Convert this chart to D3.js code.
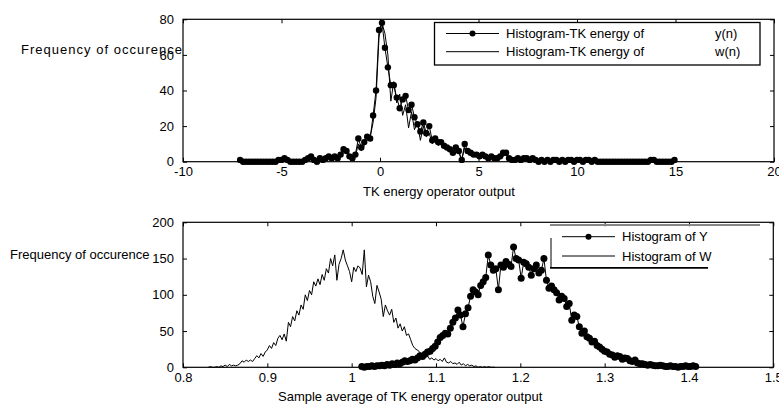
<!DOCTYPE html>
<html>
<head>
<meta charset="utf-8">
<script src="https://cdn.jsdelivr.net/npm/d3@7"></script>
<style>
body{margin:0;background:#fff}
text{font-family:"Liberation Sans",Arial,sans-serif;fill:#000}
</style>
</head>
<body>
<div id="chart"></div>
<script>
// top panel: histogram of TK energy, bins of 0.15 from -7.1
var tkStart=-7.1, tkStep=0.15;
var tkY=[1,0,0,0,0,0,0,0,0,0,0,0,0,
  1,1,2,1,
  0,0,0,0,0,1,
  2,3,1,0,2,1,2,3,2,3,2,4,
  7,6,3,2,4,13,8,11,14,13,
  26,40,74,78,
  64,53,43,43,36,30,35,37,29,32,25,21,
  17,22,16,20,12,13,11,11,9,8,7,5,8,6,
  1,10,6,5,4,4,3,4,3,2,3,2,2,3,5,5,
  2,1,1,2,1,2,2,1,2,1,0,1,0,1,0,1,1,0,1,0,1,1,0,1,1,0,1,1,0,1,0,
  0,0,0,0,0,0,0,0,0,0,0,0,0,0,0,0,
  0,1,1,0,0,0,0,0,0,1];
var tkW=[0,0,0,0,0,0,0,0,0,0,0,0,0,
  0,1,1,0,
  0,0,0,0,1,0,
  1,2,1,0,1,2,1,2,3,1,2,3,
  5,6,2,1,3,10,6,9,12,14,
  22,36,70,78,
  72,60,34,45,33,38,26,32,19,28,18,22,
  12,20,14,16,10,12,9,10,8,7,6,4,7,5,
  1,8,5,4,3,3,2,3,2,1,2,1,2,2,3,4,
  1,1,0,1,1,1,2,0,1,1,0,0,0,1,0,0,1,0,0,0,1,0,0,1,0,0,1,0,0,0,0,
  0,0,0,0,0,0,0,0,0,0,0,0,0,0,0,0,
  0,0,1,0,0,0,0,0,0,0];

// bottom panel: histogram of sample averages
var avgYStart=1.012, avgYStep=0.003;
var avgY=[1,0,1,1,2,1,2,
  2,3,2,4,3,5,4,6,5,7,9,8,9,11,10,13,16,15,18,21,22,26,29,
  35,41,44,47,46,54,62,68,79,72,56,74,82,98,107,104,100,113,118,124,
  155,141,134,136,107,141,138,146,142,139,166,150,148,123,145,143,138,127,136,141,
  130,134,150,120,109,112,107,103,93,98,95,84,88,65,72,70,56,47,50,42,
  40,35,36,30,28,25,22,21,18,17,14,16,15,11,13,12,9,8,10,6,
  5,5,4,3,4,3,2,2,3,2,1,1,2,1,1,0,1,1,2,1,1,2,1];
var avgWStart=0.83, avgWStep=0.0025;
var avgW=[0,1,0,0,1,0,2,1,3,1,4,2,3,2,
  3,5,9,7,10,8,
  10,8,12,16,13,19,15,21,
  24,30,26,34,30,40,44,38,
  46,36,62,56,70,64,78,72,
  86,80,100,92,106,100,118,112,
  122,114,128,120,136,130,150,140,
  155,120,142,150,162,148,140,132,
  118,138,132,140,137,128,162,111,
  127,118,98,88,113,104,94,70,
  86,78,72,80,62,68,54,60,
  50,56,44,46,38,30,26,24,
  22,18,20,14,16,11,13,10,
  12,9,11,8,13,7,6,8,
  5,6,4,7,3,5,2,4,
  2,3,1,2,0,1,0,1,
  0,1,0,0,0];

var topXTicks=[-10,-5,0,5,10,15,20];
var topYTicks=[0,20,40,60,80];
var botXTicks=[0.8,0.9,1,1.1,1.2,1.3,1.4,1.5];
var botYTicks=[0,50,100,150,200];

var svg=d3.select("#chart").append("svg")
          .attr("width",779)
          .attr("height",406)

function toPoints(start,step,vals){
    return vals.map(function(v,i){return {x:start+i*step,y:v}})
}

function panel(box,xdom,ydom,xt,yt){
    var x=d3.scaleLinear().domain(xdom).range([box.l,box.r])
    var y=d3.scaleLinear().domain(ydom).range([box.b,box.t])
    var g=svg.append("g")
    g.append("g")
     .attr("transform","translate(0,"+box.b+")")
     .call(d3.axisBottom(x).tickValues(xt).tickSizeInner(-4).tickSizeOuter(0).tickPadding(5).tickFormat(function(d){return d}))
    g.append("g")
     .attr("transform","translate(0,"+box.t+")")
     .call(d3.axisTop(x).tickValues(xt).tickSizeInner(-4).tickSizeOuter(0).tickFormat(""))
    g.append("g")
     .attr("transform","translate("+box.l+",0)")
     .call(d3.axisLeft(y).tickValues(yt).tickSizeInner(-4).tickSizeOuter(0).tickPadding(9))
    g.append("g")
     .attr("transform","translate("+box.r+",0)")
     .call(d3.axisRight(y).tickValues(yt).tickSizeInner(-4).tickSizeOuter(0).tickFormat(""))
    g.selectAll(".domain").remove()
    g.selectAll(".tick line").attr("stroke","#000")
    g.selectAll(".tick text").style("font-size","13px")
    g.append("rect")
     .attr("x",box.l).attr("y",box.t)
     .attr("width",box.r-box.l).attr("height",box.b-box.t)
     .attr("fill","none").attr("stroke","#000").attr("stroke-width",1.2)
    return {x:x,y:y,g:g}
}

function thinLine(p,pts){
    var line=d3.line().x(function(d){return p.x(d.x)}).y(function(d){return p.y(d.y)})
    p.g.append("path").datum(pts)
       .attr("d",line).attr("fill","none").attr("stroke","#000").attr("stroke-width",1)
}
function dotLine(p,pts,r){
    thinLine(p,pts)
    p.g.append("g").selectAll("circle").data(pts).enter()
       .append("circle")
       .attr("cx",function(d){return p.x(d.x)})
       .attr("cy",function(d){return p.y(d.y)})
       .attr("r",r)
       .attr("fill","#000")
}

// top panel
var p1=panel({l:183,r:774,t:19.3,b:161.7},[-10,20],[0,80],topXTicks,topYTicks)
thinLine(p1,toPoints(tkStart,tkStep,tkW))
dotLine(p1,toPoints(tkStart,tkStep,tkY),3.2)

svg.append("text").attr("x",21).attr("y",53.5).style("font-size","13px")
   .attr("textLength",161).attr("lengthAdjust","spacing")
   .text("Frequency of occurence")
svg.append("text").attr("x",363).attr("y",196).style("font-size","13px")
   .text("TK energy operator output")

var lg1=svg.append("g")
lg1.append("rect").attr("x",434.5).attr("y",22.5).attr("width",325.5).attr("height",42.5)
   .attr("fill","#fff").attr("stroke","#000").attr("stroke-width",1.3)
var rows1=[["Histogram-TK energy of","y(n)",33.5,true],["Histogram-TK energy of","w(n)",51.7,false]]
rows1.forEach(function(r){
    lg1.append("line").attr("x1",446).attr("x2",499).attr("y1",r[2]).attr("y2",r[2]).attr("stroke","#000")
    if(r[3]) lg1.append("circle").attr("cx",472.5).attr("cy",r[2]).attr("r",3).attr("fill","#000")
    lg1.append("text").attr("x",506).attr("y",r[2]+4.6).style("font-size","13px").text(r[0])
    lg1.append("text").attr("x",715).attr("y",r[2]+4.6).style("font-size","13px").text(r[1])
})

// bottom panel
var p2=panel({l:183,r:773.3,t:222.3,b:367.3},[0.8,1.5],[0,200],botXTicks,botYTicks)
thinLine(p2,toPoints(avgWStart,avgWStep,avgW))
dotLine(p2,toPoints(avgYStart,avgYStep,avgY),3.5)

svg.append("text").attr("x",10).attr("y",259).style("font-size","13px")
   .text("Frequency of occurence")
svg.append("text").attr("x",278).attr("y",401).style("font-size","13px")
   .text("Sample average of TK energy operator output")

var lg2=svg.append("g")
lg2.append("line").attr("x1",550).attr("x2",760).attr("y1",225).attr("y2",225).attr("stroke","#888").attr("stroke-width",2)
lg2.append("line").attr("x1",551).attr("x2",551).attr("y1",238).attr("y2",268).attr("stroke","#000").attr("stroke-width",1)
lg2.append("line").attr("x1",550).attr("x2",708).attr("y1",267.8).attr("y2",267.8).attr("stroke","#000").attr("stroke-width",1.8)
var rows2=[["Histogram of Y",236.7,true],["Histogram of W",256,false]]
rows2.forEach(function(r){
    lg2.append("line").attr("x1",562).attr("x2",615).attr("y1",r[1]).attr("y2",r[1]).attr("stroke","#000")
    if(r[2]) lg2.append("circle").attr("cx",588.5).attr("cy",r[1]).attr("r",3).attr("fill","#000")
    lg2.append("text").attr("x",622).attr("y",r[1]+4.6).style("font-size","13px").text(r[0])
})
</script>
</body>
</html>
